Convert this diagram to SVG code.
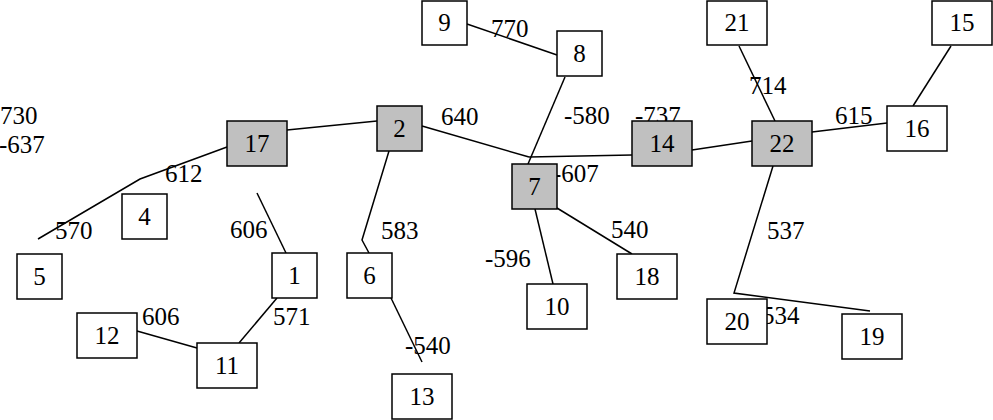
<svg xmlns="http://www.w3.org/2000/svg" width="993" height="420" viewBox="0 0 993 420">
<style>
.n rect{fill:#fff;stroke:#000;stroke-width:1.5}
.n.g rect{fill:#c0c0c0}
text{font-family:'Liberation Serif','Times New Roman',serif;font-size:25px;fill:#000}
.n text{text-anchor:middle}
.e{fill:none;stroke:#000;stroke-width:1.5}
</style>
<rect width="993" height="420" fill="#fff"/>
<g id="connectors">
<polyline class="e" points="227,147 140,179 38,239"/>
<line class="e" x1="287" y1="130" x2="377" y2="121"/>
<line class="e" x1="422" y1="126" x2="529" y2="157"/>
<line class="e" x1="565" y1="77" x2="528" y2="164"/>
<line class="e" x1="632" y1="155" x2="529" y2="157"/>
<line class="e" x1="467" y1="24" x2="557" y2="55"/>
<line class="e" x1="557" y1="208" x2="632" y2="254"/>
<line class="e" x1="535" y1="209" x2="553" y2="284"/>
<line class="e" x1="692" y1="150" x2="752" y2="141"/>
<line class="e" x1="812" y1="132" x2="887" y2="123"/>
<line class="e" x1="913" y1="106" x2="951" y2="46"/>
<line class="e" x1="739" y1="46" x2="775" y2="121"/>
<polyline class="e" points="773,166 734,293 870,311"/>
<line class="e" x1="257" y1="193" x2="286" y2="253"/>
<line class="e" x1="277" y1="298" x2="239" y2="343"/>
<line class="e" x1="137" y1="331" x2="197" y2="348"/>
<polyline class="e" points="389,151 362,240 369,253"/>
<line class="e" x1="391" y1="298" x2="422" y2="362"/>
</g>
<g id="edge-labels">
<text x="0" y="124">730</text>
<text x="-1" y="153">-637</text>
<text x="165" y="182">612</text>
<text x="55" y="239">570</text>
<text x="230" y="238">606</text>
<text x="381" y="239">583</text>
<text x="273" y="325">571</text>
<text x="405" y="354">-540</text>
<text x="142" y="325">606</text>
<text x="491" y="37">770</text>
<text x="441" y="125">640</text>
<text x="564" y="124">-580</text>
<text x="635" y="124">-737</text>
<text x="553" y="182">-607</text>
<text x="611" y="238">540</text>
<text x="485" y="267">-596</text>
<text x="749" y="94">714</text>
<text x="835" y="124">615</text>
<text x="767" y="239">537</text>
<text x="762" y="324">534</text>
</g>
<g id="n17" class="n g"><rect x="227" y="121" width="60" height="45"/><text x="257" y="152">17</text></g>
<g id="n2" class="n g"><rect x="377" y="106" width="45" height="45"/><text x="399.5" y="137">2</text></g>
<g id="n9" class="n"><rect x="422" y="1" width="45" height="44"/><text x="444.5" y="31">9</text></g>
<g id="n8" class="n"><rect x="557" y="31" width="45" height="45"/><text x="579.5" y="62">8</text></g>
<g id="n7" class="n g"><rect x="512" y="164" width="45" height="45"/><text x="534.5" y="195">7</text></g>
<g id="n14" class="n g"><rect x="632" y="121" width="60" height="45"/><text x="662" y="152">14</text></g>
<g id="n18" class="n"><rect x="617" y="254" width="60" height="45"/><text x="647" y="285">18</text></g>
<g id="n10" class="n"><rect x="527" y="284" width="60" height="45"/><text x="557" y="315">10</text></g>
<g id="n21" class="n"><rect x="707" y="1" width="60" height="44"/><text x="737" y="31">21</text></g>
<g id="n15" class="n"><rect x="932" y="1" width="60" height="44"/><text x="962" y="31">15</text></g>
<g id="n22" class="n g"><rect x="752" y="121" width="60" height="45"/><text x="782" y="152">22</text></g>
<g id="n16" class="n"><rect x="887" y="106" width="60" height="45"/><text x="917" y="137">16</text></g>
<g id="n20" class="n"><rect x="707" y="299" width="60" height="45"/><text x="737" y="330">20</text></g>
<g id="n19" class="n"><rect x="842" y="314" width="60" height="45"/><text x="872" y="345">19</text></g>
<g id="n5" class="n"><rect x="17" y="254" width="45" height="45"/><text x="39.5" y="285">5</text></g>
<g id="n4" class="n"><rect x="122" y="194" width="45" height="45"/><text x="144.5" y="225">4</text></g>
<g id="n1" class="n"><rect x="272" y="253" width="45" height="45"/><text x="294.5" y="284">1</text></g>
<g id="n6" class="n"><rect x="347" y="253" width="45" height="45"/><text x="369.5" y="284">6</text></g>
<g id="n13" class="n"><rect x="392" y="374" width="60" height="45"/><text x="422" y="405">13</text></g>
<g id="n11" class="n"><rect x="197" y="343" width="60" height="45"/><text x="227" y="374">11</text></g>
<g id="n12" class="n"><rect x="77" y="313" width="60" height="45"/><text x="107" y="344">12</text></g>
</svg>
